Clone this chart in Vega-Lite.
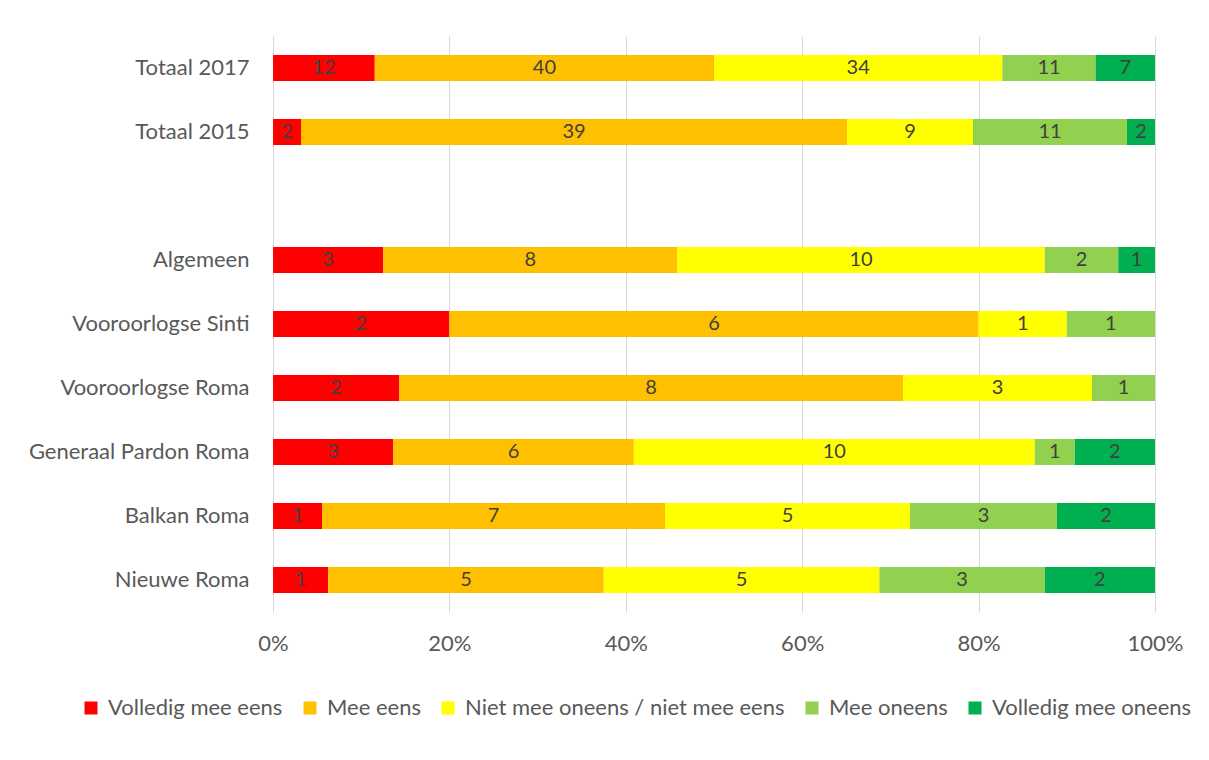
{
  "$schema": "https://vega.github.io/schema/vega-lite/v6.json",
  "width": 882,
  "height": 576,
  "autosize": {"type": "none"},
  "padding": {"left": 273, "top": 36, "right": 54, "bottom": 148},
  "background": "white",
  "data": {
    "values": [
      {"groep": "Totaal 2017", "antwoord": "Volledig mee eens", "k": 1, "n": 12},
      {"groep": "Totaal 2017", "antwoord": "Mee eens", "k": 2, "n": 40},
      {"groep": "Totaal 2017", "antwoord": "Niet mee oneens / niet mee eens", "k": 3, "n": 34},
      {"groep": "Totaal 2017", "antwoord": "Mee oneens", "k": 4, "n": 11},
      {"groep": "Totaal 2017", "antwoord": "Volledig mee oneens", "k": 5, "n": 7},
      {"groep": "Totaal 2015", "antwoord": "Volledig mee eens", "k": 1, "n": 2},
      {"groep": "Totaal 2015", "antwoord": "Mee eens", "k": 2, "n": 39},
      {"groep": "Totaal 2015", "antwoord": "Niet mee oneens / niet mee eens", "k": 3, "n": 9},
      {"groep": "Totaal 2015", "antwoord": "Mee oneens", "k": 4, "n": 11},
      {"groep": "Totaal 2015", "antwoord": "Volledig mee oneens", "k": 5, "n": 2},
      {"groep": "Algemeen", "antwoord": "Volledig mee eens", "k": 1, "n": 3},
      {"groep": "Algemeen", "antwoord": "Mee eens", "k": 2, "n": 8},
      {"groep": "Algemeen", "antwoord": "Niet mee oneens / niet mee eens", "k": 3, "n": 10},
      {"groep": "Algemeen", "antwoord": "Mee oneens", "k": 4, "n": 2},
      {"groep": "Algemeen", "antwoord": "Volledig mee oneens", "k": 5, "n": 1},
      {"groep": "Vooroorlogse Sinti", "antwoord": "Volledig mee eens", "k": 1, "n": 2},
      {"groep": "Vooroorlogse Sinti", "antwoord": "Mee eens", "k": 2, "n": 6},
      {"groep": "Vooroorlogse Sinti", "antwoord": "Niet mee oneens / niet mee eens", "k": 3, "n": 1},
      {"groep": "Vooroorlogse Sinti", "antwoord": "Mee oneens", "k": 4, "n": 1},
      {"groep": "Vooroorlogse Roma", "antwoord": "Volledig mee eens", "k": 1, "n": 2},
      {"groep": "Vooroorlogse Roma", "antwoord": "Mee eens", "k": 2, "n": 8},
      {"groep": "Vooroorlogse Roma", "antwoord": "Niet mee oneens / niet mee eens", "k": 3, "n": 3},
      {"groep": "Vooroorlogse Roma", "antwoord": "Mee oneens", "k": 4, "n": 1},
      {"groep": "Generaal Pardon Roma", "antwoord": "Volledig mee eens", "k": 1, "n": 3},
      {"groep": "Generaal Pardon Roma", "antwoord": "Mee eens", "k": 2, "n": 6},
      {"groep": "Generaal Pardon Roma", "antwoord": "Niet mee oneens / niet mee eens", "k": 3, "n": 10},
      {"groep": "Generaal Pardon Roma", "antwoord": "Mee oneens", "k": 4, "n": 1},
      {"groep": "Generaal Pardon Roma", "antwoord": "Volledig mee oneens", "k": 5, "n": 2},
      {"groep": "Balkan Roma", "antwoord": "Volledig mee eens", "k": 1, "n": 1},
      {"groep": "Balkan Roma", "antwoord": "Mee eens", "k": 2, "n": 7},
      {"groep": "Balkan Roma", "antwoord": "Niet mee oneens / niet mee eens", "k": 3, "n": 5},
      {"groep": "Balkan Roma", "antwoord": "Mee oneens", "k": 4, "n": 3},
      {"groep": "Balkan Roma", "antwoord": "Volledig mee oneens", "k": 5, "n": 2},
      {"groep": "Nieuwe Roma", "antwoord": "Volledig mee eens", "k": 1, "n": 1},
      {"groep": "Nieuwe Roma", "antwoord": "Mee eens", "k": 2, "n": 5},
      {"groep": "Nieuwe Roma", "antwoord": "Niet mee oneens / niet mee eens", "k": 3, "n": 5},
      {"groep": "Nieuwe Roma", "antwoord": "Mee oneens", "k": 4, "n": 3},
      {"groep": "Nieuwe Roma", "antwoord": "Volledig mee oneens", "k": 5, "n": 2}
    ]
  },
  "encoding": {
    "y": {
      "field": "groep",
      "type": "nominal",
      "title": null,
      "scale": {
        "domain": ["Totaal 2017", "Totaal 2015", " ", "Algemeen", "Vooroorlogse Sinti", "Vooroorlogse Roma", "Generaal Pardon Roma", "Balkan Roma", "Nieuwe Roma"],
        "paddingInner": 0.594,
        "paddingOuter": 0.297
      },
      "axis": {
        "domain": false,
        "ticks": false,
        "grid": false,
        "labelPadding": 24,
        "labelFont": "Lato",
        "labelFontSize": 22,
        "labelColor": "#595959",
        "labelLimit": 300
      }
    },
    "x": {
      "field": "n",
      "type": "quantitative",
      "stack": "normalize",
      "title": null,
      "scale": {"domain": [0, 1]},
      "axis": {
        "values": [0, 0.2, 0.4, 0.6, 0.8, 1],
        "format": ".0%",
        "domain": false,
        "ticks": false,
        "grid": true,
        "gridColor": "#d9d9d9",
        "gridWidth": 1,
        "labelPadding": 21,
        "labelFont": "Lato",
        "labelFontSize": 22,
        "labelColor": "#595959",
        "labelFlush": false
      }
    },
    "order": {"field": "k", "type": "quantitative"}
  },
  "layer": [
    {
      "mark": {"type": "bar"},
      "encoding": {
        "color": {
          "field": "antwoord",
          "type": "nominal",
          "title": null,
          "scale": {
            "domain": ["Volledig mee eens", "Mee eens", "Niet mee oneens / niet mee eens", "Mee oneens", "Volledig mee oneens"],
            "range": ["#ff0000", "#ffc000", "#ffff00", "#92d050", "#00b050"]
          },
          "legend": {
            "orient": "none",
            "direction": "horizontal",
            "legendX": -193,
            "legendY": 661,
            "symbolType": "square",
            "symbolSize": 169,
            "symbolStrokeWidth": 0,
            "symbolOpacity": 1,
            "labelFont": "Lato",
            "labelFontSize": 22,
            "labelColor": "#595959",
            "labelOffset": 6,
            "columnPadding": 16,
            "labelLimit": 400
          }
        }
      }
    },
    {
      "mark": {"type": "text", "font": "Lato", "fontSize": 20, "color": "#404040", "baseline": "middle", "align": "center"},
      "encoding": {
        "x": {"field": "n", "type": "quantitative", "stack": "normalize", "bandPosition": 0.5},
        "text": {"field": "n", "type": "quantitative"}
      }
    }
  ],
  "config": {"view": {"stroke": null}}
}
